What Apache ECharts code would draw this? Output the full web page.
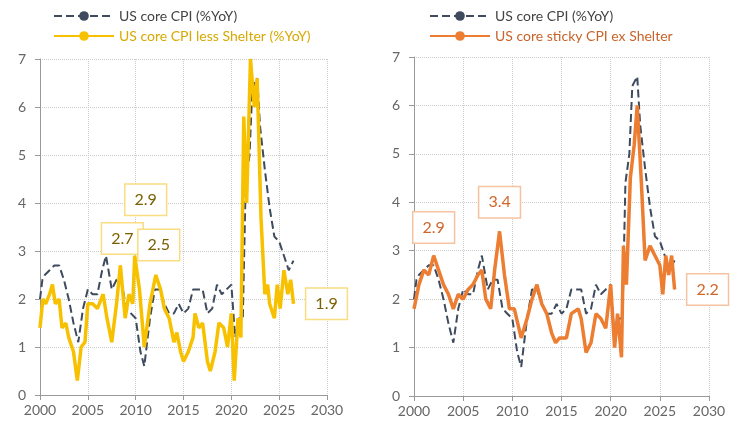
<html>
<head>
<meta charset="utf-8">
<script src="https://cdn.jsdelivr.net/npm/echarts@6/dist/echarts.min.js"></script>
<style>html,body,#main{width:100%;height:100%;margin:0;background:#fff;}</style>
</head>
<body>
<div id="main"></div>
<script>
// [year, %YoY]
var coreCpi = [[2000,2.0],[2000.25,2.4],[2000.5,2.5],[2001,2.6],[2001.5,2.7],[2002,2.7],[2002.5,2.4],[2003,2.0],[2003.5,1.5],[2004,1.1],[2004.5,1.8],[2005,2.2],[2005.5,2.1],[2006,2.1],[2006.5,2.6],[2006.9,2.9],[2007.5,2.2],[2008,2.4],[2008.5,2.4],[2009,1.8],[2009.5,1.7],[2010,1.6],[2010.5,0.9],[2010.9,0.6],[2011.5,1.6],[2012,2.2],[2012.5,2.2],[2013,1.9],[2013.5,1.7],[2014,1.7],[2014.5,1.9],[2015,1.7],[2015.5,1.8],[2016,2.2],[2016.5,2.2],[2017,2.2],[2017.5,1.7],[2018,1.8],[2018.5,2.3],[2019,2.1],[2019.5,2.2],[2020,2.3],[2020.4,1.2],[2020.8,1.6],[2021.2,1.6],[2021.5,4.4],[2021.9,5.0],[2022.2,6.4],[2022.7,6.6],[2023,5.6],[2023.5,4.7],[2024,3.9],[2024.5,3.3],[2025,3.2],[2025.5,2.9],[2026,2.6],[2026.5,2.8]];
var lessShelter = [[2000,1.4],[2000.3,2.0],[2000.6,1.9],[2001,2.1],[2001.3,2.3],[2001.6,1.9],[2002,2.0],[2002.3,1.4],[2002.7,1.5],[2003,1.2],[2003.5,0.9],[2003.9,0.3],[2004.3,1.0],[2004.7,1.1],[2005,1.9],[2005.5,1.9],[2006,1.8],[2006.6,2.1],[2007,1.6],[2007.5,1.1],[2008,1.9],[2008.4,2.7],[2008.9,1.6],[2009.3,2.1],[2009.7,1.9],[2009.9,2.9],[2010.4,2.2],[2010.9,1.0],[2011.5,1.9],[2012.1,2.5],[2012.6,2.2],[2013,1.8],[2013.5,1.6],[2014,1.1],[2014.3,1.3],[2014.7,0.9],[2015,0.7],[2015.5,0.9],[2016,1.2],[2016.2,1.7],[2016.6,1.4],[2017,1.5],[2017.5,0.7],[2017.8,0.5],[2018.3,0.9],[2018.7,1.5],[2019.2,1.4],[2019.6,1.0],[2020,1.7],[2020.3,0.3],[2020.7,1.6],[2021,1.2],[2021.3,5.8],[2021.6,4.0],[2022,7.0],[2022.4,6.0],[2022.7,6.6],[2023.1,3.7],[2023.5,2.1],[2023.8,2.3],[2024,1.9],[2024.5,1.6],[2024.8,2.3],[2025.1,1.8],[2025.5,2.6],[2025.9,2.1],[2026.2,2.4],[2026.5,1.9]];
var stickyExShelter = [[2000,1.8],[2000.5,2.3],[2001,2.6],[2001.5,2.5],[2002,2.9],[2002.5,2.6],[2003,2.3],[2003.5,2.1],[2004,1.8],[2004.5,2.1],[2005,2.0],[2005.5,2.2],[2006,2.3],[2006.5,2.5],[2006.9,2.6],[2007.3,2.0],[2007.8,1.8],[2008.2,2.6],[2008.7,3.4],[2009.2,2.5],[2009.7,1.8],[2010.2,1.8],[2010.9,1.2],[2011.5,1.6],[2012,2.0],[2012.5,2.3],[2013,1.9],[2013.5,1.7],[2014,1.3],[2014.4,1.1],[2014.8,1.2],[2015.5,1.2],[2016,1.7],[2016.7,1.8],[2017,1.6],[2017.5,0.9],[2018,1.1],[2018.5,1.7],[2019,1.6],[2019.5,1.4],[2020,2.3],[2020.4,1.0],[2020.7,1.7],[2021.1,0.8],[2021.3,3.1],[2021.6,2.3],[2022,4.5],[2022.4,5.2],[2022.7,6.0],[2023.1,4.5],[2023.5,2.8],[2024,3.1],[2024.5,2.9],[2025,2.7],[2025.3,2.1],[2025.6,2.9],[2025.9,2.5],[2026.2,2.9],[2026.5,2.2]];
// callouts: [year, value, dx, dy]
var leftCallouts = [[2008.4,2.7,2,-27],[2009.9,2.9,11,-56],[2012.1,2.5,3,-30],[2026.5,1.9,33,0]];
var rightCallouts = [[2002,2.9,0,-28],[2008.7,3.4,0,-29],[2026.5,2.2,33,0]];

var font = 'Lato, "Noto Sans", sans-serif';
var gray = '#3e4a5d', yellow = '#f7c100', orange = '#ec7d31';

function xAx(i) {
  return {type:'value', gridIndex:i, min:2000, max:2030, interval:5,
    axisLine:{onZero:false, lineStyle:{color:'#999'}}, axisTick:{lineStyle:{color:'#999'}},
    axisLabel:{color:'#666', fontSize:14, fontFamily:font, formatter:function (v) { return String(v); }},
    splitLine:{show:true, lineStyle:{type:'dotted', color:'#ccc'}}};
}
function yAx(i) {
  return {type:'value', gridIndex:i, min:0, max:7, interval:1,
    axisLine:{show:true, lineStyle:{color:'#999'}}, axisTick:{show:true, lineStyle:{color:'#999'}},
    axisLabel:{color:'#666', fontSize:14, fontFamily:font, margin:14},
    splitLine:{show:true, lineStyle:{type:'dotted', color:'#ccc'}}};
}
function callouts(list, col, txt, border) {
  return {symbol:'circle', symbolSize:1, itemStyle:{color:col}, silent:true,
    data:list.map(function (c) {
      return {coord:[c[0], c[1]], value:c[1].toFixed(1),
        label:{show:true, offset:[c[2], c[3]], formatter:'{c}', color:txt,
          fontSize:16, fontFamily:font, backgroundColor:'#fff', borderColor:border, borderWidth:1.5,
          padding:[7,9]}};
    })};
}

var chart = echarts.init(document.getElementById('main'));
chart.setOption({
  animation:false,
  grid:[{left:40, right:416, top:59, bottom:41}, {left:414, right:34, top:57, bottom:40}],
  xAxis:[xAx(0), xAx(1)],
  yAxis:[yAx(0), yAx(1)],
  legend:[
    {left:48, top:4, orient:'vertical', itemGap:6, itemWidth:60, itemHeight:12,
     textStyle:{fontSize:14, fontFamily:font},
     data:[{name:'US core CPI (%YoY)', textStyle:{color:'#444'}},
           {name:'US core CPI less Shelter (%YoY)', textStyle:{color:'#d9a900'}}]},
    {left:424, top:4, orient:'vertical', itemGap:6, itemWidth:60, itemHeight:12,
     textStyle:{fontSize:14, fontFamily:font},
     data:[{name:'US core CPI (%YoY) ', textStyle:{color:'#444'}},
           {name:'US core sticky CPI ex Shelter', textStyle:{color:'#c8642a'}}]}
  ],
  series:[
    {name:'US core CPI (%YoY)', type:'line', xAxisIndex:0, yAxisIndex:0, data:coreCpi, symbol:'none',
     lineStyle:{color:gray, width:2, type:'dashed'}, itemStyle:{color:gray}},
    {name:'US core CPI less Shelter (%YoY)', type:'line', xAxisIndex:0, yAxisIndex:0, data:lessShelter, symbol:'none',
     lineStyle:{color:yellow, width:3.5}, itemStyle:{color:yellow},
     markPoint:callouts(leftCallouts, yellow, '#7a6000', '#f9dd80')},
    {name:'US core CPI (%YoY) ', type:'line', xAxisIndex:1, yAxisIndex:1, data:coreCpi, symbol:'none',
     lineStyle:{color:gray, width:2, type:'dashed'}, itemStyle:{color:gray}},
    {name:'US core sticky CPI ex Shelter', type:'line', xAxisIndex:1, yAxisIndex:1, data:stickyExShelter, symbol:'none',
     lineStyle:{color:orange, width:3.5}, itemStyle:{color:orange},
     markPoint:callouts(rightCallouts, orange, '#d0662a', '#f6c3a0')}
  ]
});
</script>
</body>
</html>
